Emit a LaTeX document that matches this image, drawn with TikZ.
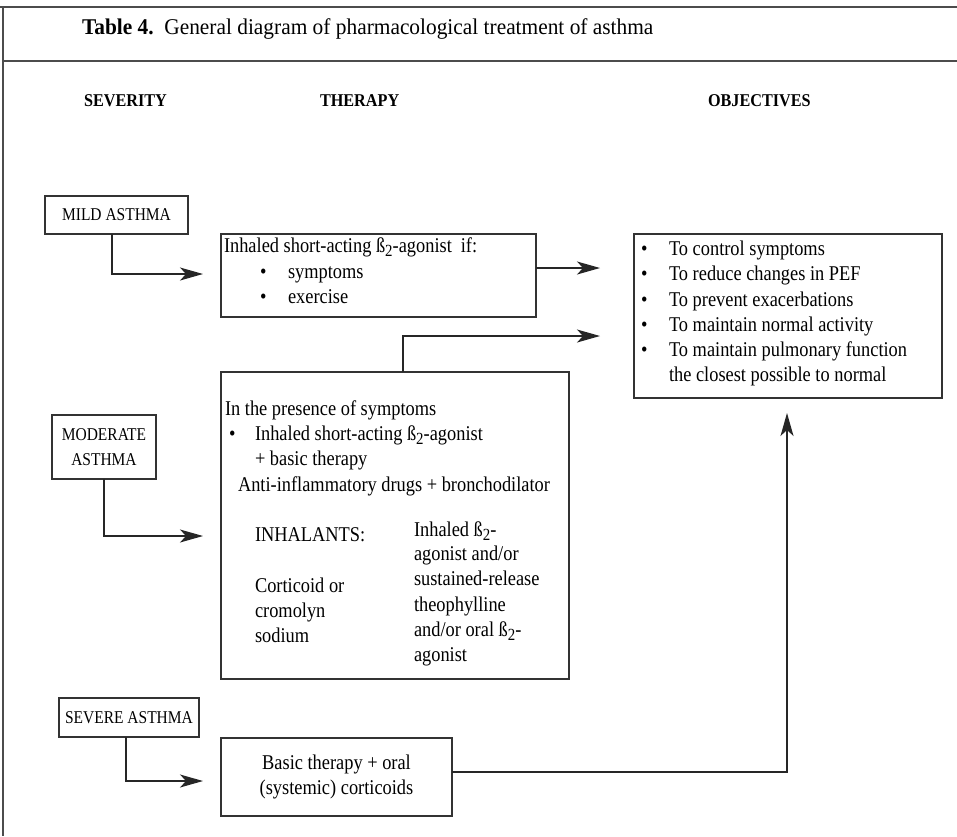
\documentclass[tikz,border=0pt]{standalone}
\usepackage{fontspec}
\setmainfont{Liberation Serif}[FakeStretch=0.875]
\newfontfamily\condfont{Liberation Serif}[FakeStretch=0.86]
\newfontfamily\hdrfont{Liberation Serif}[FakeStretch=0.9]
\newfontfamily\titlefont{Liberation Serif}[FakeStretch=0.95]
\usetikzlibrary{arrows.meta}
\newcommand\btwo{\raisebox{-0.45ex}{\fontsize{17}{17}\selectfont 2}}
\begin{document}
\begin{tikzpicture}[x=1pt,y=-1pt,
  every node/.style={inner sep=0pt, outer sep=0pt, font=\fontsize{21}{25}\selectfont},
  frameline/.style={line width=1.5pt, draw=black!70},
  boxst/.style={draw=black!80, line width=1.2pt, rectangle, inner sep=0pt},
  txt/.style={anchor=west, text height=13pt, text depth=4.5pt},
  hdr/.style={anchor=west, text height=12pt, text depth=0pt, font=\hdrfont\bfseries\fontsize{18}{22}\selectfont},
  capsbox/.style={boxst, font=\condfont\fontsize{18}{25}\selectfont, align=center},
  conn/.style={draw=black!85, line width=1.2pt, -{Stealth[length=23pt,width=13pt,inset=6pt]}}
]
\useasboundingbox (0,0) rectangle (957,836);
% frame
\draw[frameline] (0,7) -- (957,7);
\draw[frameline] (3,7) -- (3,836);
\draw[frameline] (3,61) -- (957,61);
% title
\node[anchor=base west, font=\titlefont\fontsize{22.5}{25}\selectfont] (title) at (82,34)
  {\textbf{Table 4.}\ \ General diagram of pharmacological treatment of asthma};
% headers
\node[hdr] (hsev) at (84,100) {SEVERITY};
\node[hdr] (hther) at (320,100) {THERAPY};
\node[hdr] (hobj) at (708,100) {OBJECTIVES};
% severity boxes
\node[capsbox, minimum width=143pt, minimum height=38pt] (mild) at (116.5,215) {MILD ASTHMA};
\node[capsbox, minimum width=104pt, minimum height=64pt] (mod) at (104,447) {MODERATE\\ASTHMA};
\node[capsbox, minimum width=140pt, minimum height=39pt] (sev) at (129,717.5) {SEVERE ASTHMA};
% therapy boxes
\node[boxst, minimum width=315pt, minimum height=83pt] (mildtx) at (378.5,275.5) {};
\node[boxst, minimum width=348pt, minimum height=307pt] (modtx) at (395,525.5) {};
\node[boxst, minimum width=231pt, minimum height=78pt, align=center] (sevtx) at (336.5,777)
  {Basic therapy + oral\\(systemic) corticoids};
% objectives box
\node[boxst, minimum width=308pt, minimum height=164pt] (obj) at (788,316) {};
% mild therapy text
\node[txt] (mt1) at (224,248) {Inhaled short-acting ß\btwo-agonist\hspace{9pt}if:};
\node[txt] (mb1) at (260,274) {•};
\node[txt] (mt2) at (288,274) {symptoms};
\node[txt] (mb2) at (260,299) {•};
\node[txt] (mt3) at (288,299) {exercise};
% moderate therapy text
\node[txt] (dt1) at (225,411) {In the presence of symptoms};
\node[txt] (db1) at (229,436) {•};
\node[txt] (dt2) at (255,436) {Inhaled short-acting ß\btwo-agonist};
\node[txt] (dt3) at (255,461) {+ basic therapy};
\node[txt] (dt4) at (238,487) {Anti-inflammatory drugs + bronchodilator};
\node[txt] (dl1) at (255,537) {INHALANTS:};
\node[txt] (dl2) at (255,588) {Corticoid or};
\node[txt] (dl3) at (255,613) {cromolyn};
\node[txt] (dl4) at (255,638) {sodium};
\node[txt] (dr1) at (414,532) {Inhaled ß\btwo-};
\node[txt] (dr2) at (414,556) {agonist and/or};
\node[txt] (dr3) at (414,581) {sustained-release};
\node[txt] (dr4) at (414,607) {theophylline};
\node[txt] (dr5) at (414,632) {and/or oral ß\btwo-};
\node[txt] (dr6) at (414,657) {agonist};
% objectives text
\foreach \yy/\tt [count=\i] in {251/To control symptoms, 276/To reduce changes in PEF, 302/To prevent exacerbations, 327/To maintain normal activity, 352/To maintain pulmonary function}{
  \node[txt] (ob\i) at (641,\yy) {•};
  \node[txt] (ot\i) at (669,\yy) {\tt};
}
\node[txt] (ot6) at (669,377) {the closest possible to normal};
% connector end points
\coordinate (mildin) at (203,274);
\coordinate (modin) at (203,536);
\coordinate (sevin) at (203,781);
\coordinate (objin1) at (600,268);
\coordinate (objin2) at (600,336);
\coordinate (objin3) at (787,413);
% connectors
\draw[conn] (mild.south -| 112,0) |- (mildin);
\draw[conn] (mod.south) |- (modin);
\draw[conn] (sev.south -| 126,0) |- (sevin);
\draw[conn] (mildtx.east |- objin1) -- (objin1);
\draw[conn] (modtx.north -| 403,0) |- (objin2);
\draw[conn] (sevtx.east |- 0,772) -| (objin3);
\end{tikzpicture}
\end{document}
